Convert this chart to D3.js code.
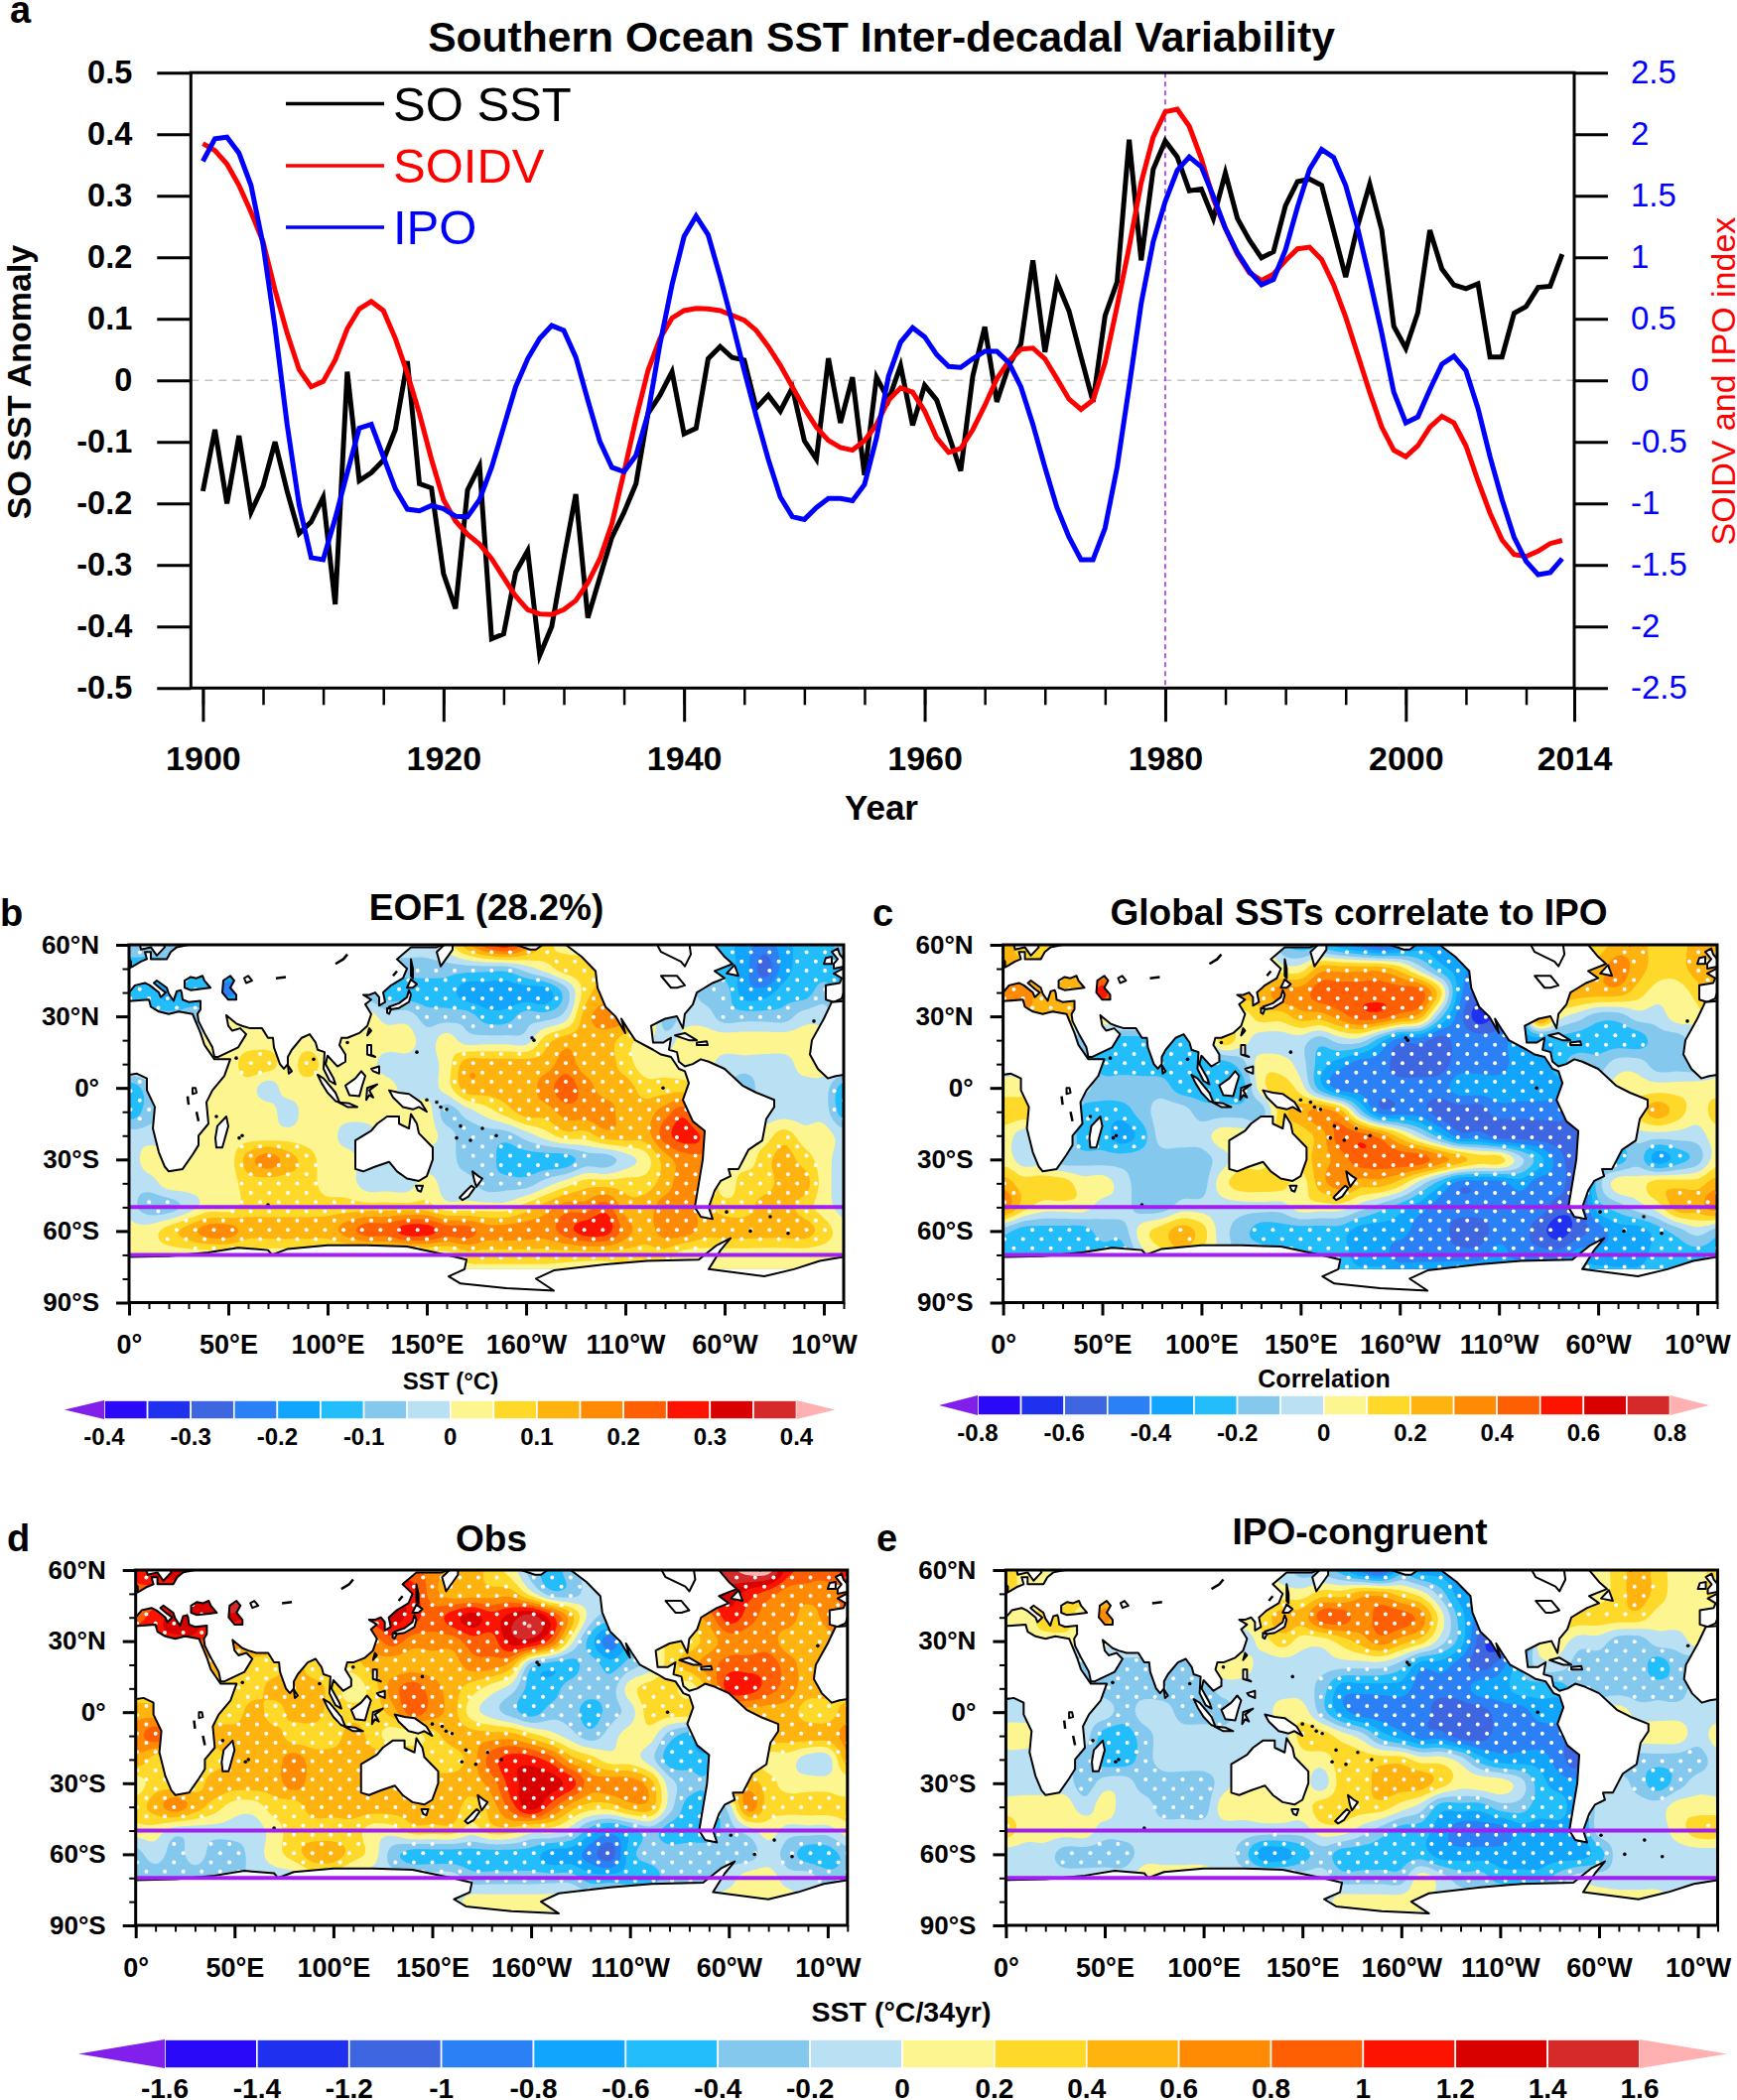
<!DOCTYPE html>
<html>
<head>
<meta charset="utf-8">
<script src="https://cdn.jsdelivr.net/npm/d3@7"></script>
<style>
html, body { margin: 0; padding: 0; background: #fff; overflow: hidden; }
text { font-family: "Liberation Sans", Arial, sans-serif; }
</style>
</head>
<body>
<div id="chart"></div>
<script>
// ---- panel a: annual series 1900-2013 ----
const years = d3.range(1900, 2014);
const soSst = [-0.18,-0.08,-0.20,-0.09,-0.214,-0.172,-0.10,-0.18,-0.249,-0.23,-0.19,-0.364,0.014,-0.163,-0.15,-0.13,-0.08,0.031,-0.168,-0.175,
  -0.314,-0.371,-0.178,-0.139,-0.42,-0.412,-0.312,-0.277,-0.447,-0.40,-0.29,-0.185,-0.386,-0.32,-0.255,-0.215,-0.168,-0.054,-0.024,0.014,
  -0.087,-0.078,0.035,0.055,0.037,0.033,-0.045,-0.024,-0.05,-0.012,-0.098,-0.128,0.036,-0.069,0.005,-0.154,0.005,-0.032,0.024,-0.073,
  -0.008,-0.032,-0.089,-0.147,0.007,0.087,-0.035,0.024,0.059,0.195,0.046,0.16,0.113,0.038,-0.035,0.105,0.16,0.391,0.195,0.343,
  0.389,0.363,0.308,0.311,0.263,0.337,0.263,0.228,0.199,0.209,0.284,0.323,0.327,0.317,0.243,0.168,0.251,0.319,0.244,0.088,
  0.052,0.11,0.244,0.181,0.155,0.149,0.157,0.038,0.038,0.109,0.12,0.151,0.153,0.205];
const soidv = [1.924,1.867,1.758,1.584,1.366,1.126,0.733,0.384,0.087,-0.052,-0.009,0.166,0.419,0.580,0.641,0.567,0.340,0.057,-0.271,-0.641,
  -0.969,-1.143,-1.252,-1.331,-1.449,-1.601,-1.754,-1.863,-1.898,-1.902,-1.863,-1.789,-1.645,-1.449,-1.165,-0.750,-0.314,0.079,0.340,0.506,
  0.567,0.585,0.580,0.567,0.528,0.489,0.406,0.275,0.122,-0.052,-0.227,-0.380,-0.489,-0.545,-0.567,-0.489,-0.358,-0.161,-0.061,-0.096,
  -0.249,-0.467,-0.585,-0.554,-0.401,-0.205,0.013,0.157,0.253,0.262,0.175,0.013,-0.153,-0.236,-0.161,0.144,0.602,1.082,1.606,1.976,
  2.182,2.203,2.064,1.802,1.475,1.235,1.025,0.873,0.812,0.864,0.973,1.069,1.082,0.982,0.777,0.515,0.209,-0.096,-0.380,-0.567,
  -0.620,-0.532,-0.380,-0.292,-0.345,-0.532,-0.816,-1.078,-1.296,-1.414,-1.431,-1.387,-1.326,-1.300];
const ipo = [1.780,1.963,1.976,1.846,1.584,1.104,0.428,-0.358,-1.012,-1.440,-1.457,-1.121,-0.750,-0.388,-0.358,-0.620,-0.881,-1.047,-1.060,-1.017,
  -1.043,-1.104,-1.108,-0.969,-0.707,-0.380,-0.052,0.175,0.340,0.445,0.406,0.188,-0.161,-0.497,-0.707,-0.742,-0.611,-0.271,0.297,0.777,
  1.169,1.335,1.182,0.842,0.471,0.079,-0.292,-0.641,-0.947,-1.108,-1.130,-1.034,-0.960,-0.960,-0.977,-0.846,-0.467,0.035,0.310,0.428,
  0.353,0.209,0.113,0.105,0.175,0.236,0.236,0.144,-0.052,-0.358,-0.707,-1.034,-1.274,-1.457,-1.457,-1.200,-0.707,-0.052,0.624,1.126,
  1.453,1.706,1.815,1.736,1.497,1.235,1.038,0.886,0.777,0.820,1.060,1.409,1.715,1.876,1.811,1.584,1.235,0.820,0.384,-0.096,
  -0.345,-0.297,-0.074,0.131,0.196,0.079,-0.227,-0.620,-0.969,-1.274,-1.470,-1.579,-1.562,-1.449];
const leftTicks = [0.5,0.4,0.3,0.2,0.1,0,-0.1,-0.2,-0.3,-0.4,-0.5];
const rightTicks = [2.5,2,1.5,1,0.5,0,-0.5,-1,-1.5,-2,-2.5];
const yearLabels = [1900,1920,1940,1960,1980,2000,2014];
const yearMinor = d3.range(1900, 2015, 5);

// ---- maps: colour class read off each 10 x 10 degree node ----
// 1..8 warm classes, -1..-8 cool classes (counted from zero), 9 is above the bar
const gridLats = d3.range(60, -81, -10);
const gridLons = d3.range(0, 360, 10);
const eof1Rows = [
 [-2,-2,-2,-2,-2,-2,-2,-2,-1,-1,-1,-1,-1,-1,-1,-1,1,3,5,6,4,2,1,1,1,1,-1,-1,-2,-2,-3,-4,-5,-4,-3,-3],
 [-3,-3,-3,-3,-3,-3,-3,-3,-2,-2,-2,-2,-2,-2,-2,-2,-2,-2,-2,-2,-1,1,2,2,2,2,-1,-1,-2,-3,-3,-4,-6,-4,-3,-3],
 [-3,-3,-4,-3,-3,-5,-3,-2,-2,-2,-2,-2,-2,-3,-3,-3,-3,-4,-4,-4,-4,-4,-2,2,3,3,1,-1,-1,-2,-2,-4,-4,-3,-3,-2],
 [-2,-2,-2,-2,-2,1,1,1,1,1,1,1,1,-1,-1,-2,-2,-2,-3,-3,-2,-2,-1,3,4,4,3,-2,-1,-1,-2,-2,-2,-2,-1,-1],
 [1,1,1,1,1,1,1,1,1,1,1,1,1,1,1,-1,1,-1,-1,-1,-1,2,3,3,3,2,1,-1,1,1,1,1,1,1,1,1],
 [1,1,1,1,1,1,2,2,1,2,1,1,1,-1,-1,-1,1,3,3,3,3,3,4,3,3,2,1,1,1,1,-1,-1,-1,-1,1,1],
 [-3,-2,-2,-2,1,1,1,-1,1,1,1,1,1,1,-1,-1,1,3,3,3,3,4,5,4,3,3,2,2,2,1,-1,-2,-1,-1,-1,-1],
 [-3,-2,-1,-1,1,1,1,1,-1,1,1,1,1,1,1,1,-2,-1,1,2,3,3,4,4,4,3,3,4,5,2,-1,-1,-1,-1,-1,-1],
 [-1,-1,-1,1,1,1,1,1,1,1,1,-1,-1,1,1,1,-1,-2,-2,-2,-1,1,2,2,3,3,3,5,6,5,1,1,1,2,1,1],
 [-1,1,1,1,1,1,3,4,3,2,1,1,-1,-1,-1,-1,-1,-2,-2,-3,-3,-3,-3,-2,-2,-1,1,3,4,4,2,1,2,3,2,1],
 [-1,-1,1,1,1,1,2,2,2,2,1,1,-1,-1,-1,1,-1,-1,-2,-2,-2,-1,1,2,2,2,2,3,4,3,1,2,2,3,3,1],
 [-1,-2,-2,-1,1,1,2,2,2,2,2,2,2,2,2,2,1,1,1,1,2,3,4,4,5,3,3,4,4,3,2,2,3,3,2,1],
 [1,1,2,3,4,4,3,3,3,3,3,4,5,5,6,6,5,5,4,4,4,4,5,6,6,4,3,4,4,3,3,3,3,3,3,2],
 [1,1,1,1,1,1,1,1,1,1,1,1,1,1,1,1,1,2,2,2,2,2,2,2,2,2,2,2,1,1,1,1,1,1,1,1],
 [1,1,1,1,1,1,1,1,1,1,1,1,1,1,1,1,1,1,1,1,1,1,1,1,1,1,1,1,1,1,1,1,1,1,1,1]];
const corrRows = [
 [3,2,2,2,3,3,3,3,3,3,3,3,3,3,-2,-3,-3,-4,-5,-6,-5,-4,-4,-4,-4,-4,-3,2,2,2,2,3,3,2,2,3],
 [3,3,3,3,3,3,3,3,3,3,3,3,3,2,1,1,3,3,3,3,2,-1,-3,-4,-5,-5,-4,1,1,2,3,4,3,2,2,3],
 [4,4,3,3,3,6,3,3,3,3,3,3,3,3,4,4,5,5,5,5,5,5,2,-4,-6,-6,-5,2,3,3,3,3,2,1,1,2],
 [3,3,3,3,2,2,2,2,2,2,2,2,1,2,2,3,3,4,5,5,4,3,-2,-5,-7,-6,-5,4,1,-1,-2,-2,-1,-1,1,1],
 [-1,-1,-1,-2,-2,-3,-3,-3,-3,-3,-3,2,1,-1,-1,-1,-2,-1,-1,-3,-5,-5,-6,-5,-5,-5,-4,-4,-3,-3,-3,-3,-3,-2,-2,-1],
 [-1,-1,-1,-1,-2,-3,-3,-3,-3,-3,-3,-3,-2,1,1,-1,-3,-4,-5,-5,-6,-6,-6,-5,-5,-5,-4,-4,-3,-2,-2,-1,-1,-2,-2,-2],
 [1,1,1,1,-1,-2,-2,-2,-2,-3,-3,-3,-3,1,2,1,-3,-5,-5,-5,-5,-5,-5,-4,-4,-4,-4,-4,-4,-3,-1,1,1,1,1,1],
 [2,2,2,1,-3,-3,-3,-2,-1,-1,-2,-2,-2,-2,2,3,4,3,-2,-5,-5,-5,-6,-6,-6,-5,-5,-5,-5,-5,2,2,2,3,2,1],
 [1,-1,-1,-1,-3,-3,-4,-3,-1,-1,-1,1,1,1,2,2,3,5,5,4,2,-1,-3,-5,-5,-6,-6,-6,-6,-6,-2,-2,-1,-1,-1,-1],
 [1,-1,-1,-2,-2,-2,-2,-2,-2,-2,-2,-1,1,1,2,2,3,4,5,5,5,5,4,3,2,2,-1,-3,-5,-6,-3,-3,-2,-4,-3,-2],
 [3,2,2,2,1,1,-1,-2,-2,-2,-2,1,2,2,2,1,3,4,3,3,2,-1,-3,-5,-5,-5,-4,-5,-5,-6,-2,1,1,2,2,2],
 [4,2,1,1,1,-1,-1,-2,-2,-1,-1,-1,-1,-1,-1,1,1,1,-1,-2,-3,-4,-5,-5,-5,-5,-5,-5,-6,-6,-3,-2,-1,1,3,3],
 [-2,-3,-3,-3,-3,-2,-2,1,2,3,2,-1,-2,-3,-3,-3,-3,-3,-4,-4,-4,-5,-5,-6,-6,-5,-5,-6,-7,-6,-5,-4,-4,-3,-2,-1],
 [-3,-3,-3,-3,-3,-3,-3,-1,1,2,1,-1,-2,-2,-3,-3,-3,-3,-4,-4,-5,-5,-5,-5,-5,-4,-5,-5,-5,-4,-4,-4,-4,-3,-3,-3],
 [-3,-3,-3,-3,-3,-3,-3,-3,-3,-3,-3,-3,-3,-3,-3,-3,-3,-3,-3,-3,-3,-3,-3,-3,-3,-3,-3,-3,-3,-3,-3,-3,-3,-3,-3,-3]];
const obsRows = [
 [6,7,7,7,7,7,7,7,7,7,6,6,5,5,5,4,3,3,2,1,-2,-3,-2,-1,-1,-1,-1,5,6,7,8,9,9,6,5,5],
 [5,5,6,7,7,9,6,6,6,6,6,6,6,6,6,4,3,3,3,3,1,-2,-2,-1,-1,-1,4,5,5,6,7,6,5,4,4,4],
 [5,6,7,7,7,7,6,6,6,6,6,6,6,7,6,5,6,7,6,7,8,6,3,-1,-2,-2,2,3,3,4,6,5,4,4,3,4],
 [6,6,6,6,4,4,4,4,4,4,4,4,4,5,4,4,4,5,5,7,7,5,1,-3,-5,-3,-1,2,2,3,4,4,4,3,3,3],
 [3,3,3,3,3,3,2,2,3,2,2,2,3,3,3,3,3,4,4,3,-2,-3,-3,-2,-3,-2,-1,2,3,4,5,5,5,4,3,3],
 [2,2,2,2,2,2,2,3,3,3,2,1,2,4,5,4,3,2,1,-1,-3,-3,-2,-2,-2,1,2,2,1,3,6,6,5,4,3,3],
 [3,3,3,3,2,2,3,2,3,3,2,2,2,3,5,4,3,1,-1,-2,-3,-2,-2,-3,-2,-1,2,2,2,2,3,3,3,3,2,2],
 [4,5,4,3,3,3,3,3,2,2,2,3,2,1,1,2,3,3,3,3,2,1,-1,-2,-1,1,1,-2,-3,-3,3,3,3,3,3,3],
 [3,2,2,2,2,3,3,3,4,3,3,3,3,3,3,2,2,3,5,6,6,5,3,2,1,1,-1,-3,-3,-3,2,2,1,1,-1,-1],
 [1,2,2,2,3,3,3,3,4,3,3,3,3,3,3,3,3,3,4,6,7,7,6,4,4,4,3,-1,-2,-2,3,3,2,1,1,1],
 [2,3,4,3,2,1,1,2,2,3,3,3,3,3,3,3,3,2,3,5,7,5,3,2,2,3,3,-1,-3,-3,-1,4,2,2,2,2],
 [1,1,-1,-1,-1,-1,-1,1,2,2,2,2,1,1,2,2,2,1,2,2,1,1,-1,-3,-4,-3,-2,-3,-3,-3,-2,-1,1,-1,-1,-1],
 [-2,-1,-2,-1,-2,-2,-1,1,2,3,3,2,1,-2,-3,-3,-3,-3,-3,-3,-3,-4,-4,-5,-6,-3,-2,-2,-2,-2,-2,-2,-1,-2,-3,-3],
 [-2,-2,-2,-2,-2,-2,-1,-1,-1,1,1,-1,-1,-1,-1,-1,-1,-2,-2,-2,-2,-2,-2,-3,-3,-3,-3,-2,-2,-2,-1,1,1,-1,-1,-2],
 [-1,-1,-1,-1,-1,-1,-1,-1,-1,-1,-1,-1,-1,-1,-1,-1,-1,1,1,1,1,1,1,-1,-1,-1,-1,-1,-1,1,1,1,1,1,-1,-1]];
const congruentRows = [
 [2,1,1,1,1,1,1,1,1,1,1,1,1,1,-1,-2,-2,-3,-5,-6,-3,-4,-4,-4,-3,-3,-1,1,1,1,1,2,3,2,1,1],
 [2,1,1,2,2,2,2,1,1,1,1,1,1,1,1,1,2,2,3,3,2,1,-2,-4,-4,-4,-3,1,1,1,1,2,3,2,1,1],
 [1,1,2,2,1,4,1,1,1,1,1,1,1,2,3,3,5,5,4,5,5,4,1,-3,-5,-5,-4,1,2,2,2,2,2,1,1,1],
 [1,1,1,1,1,1,1,1,1,1,1,1,-1,1,2,1,1,2,3,4,3,2,-1,-3,-6,-7,-5,1,1,-1,-1,-2,-2,-1,-1,1],
 [-1,-1,-1,-2,-2,-2,-2,-2,-1,-2,-1,1,1,-1,-1,-1,-1,-1,-1,-1,-2,-4,-4,-5,-6,-5,-3,-1,-1,-2,-2,-2,-2,-3,-2,-2],
 [-1,-1,-1,-1,-1,-2,-2,-2,-2,-2,-2,-1,-1,-1,-1,-1,-2,-4,-4,-4,-4,-5,-5,-5,-4,-4,-3,-3,-3,-2,-2,-2,-2,-2,-2,-1],
 [-1,-1,-1,-1,-1,-1,-2,-1,-1,-2,-2,-2,-1,-1,1,1,-2,-4,-5,-5,-5,-5,-6,-6,-6,-5,-5,-4,-4,-4,-1,1,-1,-1,-1,-1],
 [1,1,1,1,-1,-3,-3,-2,-1,-1,-1,-1,-1,-1,-1,2,2,1,-1,-3,-4,-5,-5,-6,-6,-5,-5,-5,-5,-6,-1,1,1,1,1,-1],
 [-1,-1,-1,-1,-2,-3,-3,-2,-1,-1,-1,-1,-1,-1,-1,1,1,2,2,2,2,1,1,-1,-3,-4,-4,-4,-5,-6,-1,-2,-2,-2,-2,-2],
 [-1,-1,-1,-1,-2,-1,-1,-2,-2,-2,-2,-1,1,1,1,1,-1,2,2,3,3,3,2,1,1,1,-1,-3,-4,-4,-1,-1,-2,-3,-2,-1],
 [1,1,1,1,-1,1,-1,-1,-2,-2,-2,1,1,1,1,1,2,2,2,2,1,-1,-3,-3,-3,-2,-2,-3,-3,-4,-1,-1,-1,-1,1,1],
 [2,1,1,1,1,-1,-1,-1,-1,-1,-1,-1,-1,-1,-1,-1,1,1,-1,-2,-3,-3,-4,-5,-5,-5,-4,-4,-4,-4,-1,-1,-1,-1,1,2],
 [-1,-1,-1,-2,-2,-2,-2,-1,-1,-1,-1,-1,-2,-4,-4,-3,-2,-3,-3,-3,-3,-3,-4,-4,-4,-4,-4,-4,-4,-4,-3,-1,-1,-1,-1,-1],
 [-1,-1,-1,-1,-1,-1,-1,1,1,1,1,-1,-1,-1,-1,-1,-1,-2,-2,-2,-2,1,-1,-2,-2,-3,-3,-3,-2,-1,-1,-1,-1,-1,-1,-1],
 [-1,-1,-1,-1,-1,-1,-1,-1,-1,-1,-1,-1,-1,-1,-1,-1,-1,1,1,1,1,1,-1,-1,-1,-1,-1,-1,-1,1,1,1,1,1,-1,-1]];

const bandColors = ["#2a08f8","#1f30ee","#3d66e0","#2b80f5","#12a5fd","#24bdfb","#84c8ee","#b9e0f3",
                    "#fdf690","#fed92a","#feb30e","#fe8b03","#fe5f03","#fd1400","#d90000","#d42a2a"];
const underColor = "#8020ea";
const overColor = "#ffb0b0";

const mapLonTicks = [0,50,100,150,200,250,300,350];
const mapLonLabels = ["0°","50°E","100°E","150°E","160°W","110°W","60°W","10°W"];
const mapLatTicks = [60,30,0,-30,-60,-90];
const mapLatLabels = ["60°N","30°N","0°","30°S","60°S","90°S"];
const barTicksB = ["-0.4","-0.3","-0.2","-0.1","0","0.1","0.2","0.3","0.4"];
const barTicksC = ["-0.8","-0.6","-0.4","-0.2","0","0.2","0.4","0.6","0.8"];
const barTicksDE = ["-1.6","-1.4","-1.2","-1","-0.8","-0.6","-0.4","-0.2","0","0.2","0.4","0.6","0.8","1","1.2","1.4","1.6"];

// ---- rough coastlines in lon/lat ----
const landRings = [
 // Eurasia, with the Black Sea and the Caspian as holes
 [[[-9,37],[-9,43],[-2,44],[-1,46],[-5,48],[2,51],[6,53],[9,54],[8,57],[11,57],[11,54],[14,54],[19,54],[21,57],[24,59],[30,60],[23,60],[21,62],[25,66],[21,65],[17,61],[18,59],[14,55.5],[11,59],[6,58],[5,62],[14,68],[25,71],[40,67],[70,73],[100,77],[140,73],[180,69],[190,66],[178,62],[170,60],[163,60],[163,58],[157,51],[155,57],[160,61],[155,59],[142,59],[135,54],[140,50],[138,46],[132,43],[128,40],[129,36],[126,34.5],[126,38],[124,40],[121,39],[118,39],[122,37],[119,35],[122,31],[120,26],[116,23],[110,21],[107,21],[106,18],[109,14],[109,11],[105,9],[100,13.5],[99,10],[103,4],[104,1.5],[101,3],[98,8],[98.5,15],[95,16],[94,19],[91,22.5],[87,21],[82,16],[80,13],[80,10],[78,8],[76,10],[73,17],[72.5,21],[70,21],[67,25],[61,25],[57,26],[54,27],[49,30.5],[50,26],[52,24],[56,25],[59,22.5],[55,17],[45,13],[43,13],[42,17],[38,23],[35,28],[34.5,31],[36,33],[36,36.5],[30,36],[27,37],[26.5,40],[26,41],[24,40.5],[23,38],[22.5,36.5],[20,39.5],[19,42],[14,45],[12.5,44],[16,41.5],[18.5,40],[16,38],[15,40],[10.5,43],[8,44],[3,43],[0,40],[-1,37.5],[-5,36],[-9,37]],
  [[28,42],[28,45],[31,46.5],[34,46],[37,47],[38,45],[41,42],[36,41.5],[31,41],[28,42]],
  [[50,37],[47,40],[47.5,45],[51,47],[53,45],[51,42],[54,39],[54,37],[50,37]]],
 // Africa
 [[[-6,36],[10,37],[11,34],[15,32],[20,31],[25,32],[32,31],[33,29],[36,23],[38,18],[43,12],[51,12],[48,5],[42,-1],[39,-6],[40,-15],[35,-20],[35,-24],[32,-28],[27,-34],[20,-35],[18,-33],[15,-27],[12,-17],[13,-8],[9,-1],[9,4],[4,6],[-4,5],[-8,4],[-13,8],[-17,14],[-16,20],[-10,29],[-6,36]]],
 // the Americas
 [[[-168,66],[-165,60],[-158,58],[-155,58],[-150,61],[-140,60],[-132,55],[-125,49],[-124,42],[-120,34],[-115,30],[-110,23],[-112,29],[-109,25],[-105,20],[-96,16],[-92,14],[-87,13],[-83,8],[-80,7],[-78,2],[-81,-5],[-76,-14],[-70,-18],[-71,-30],[-73,-40],[-75,-50],[-72,-54],[-66,-55],[-68,-50],[-65,-43],[-62,-39],[-57,-37],[-58,-34],[-53,-34],[-48,-26],[-41,-22],[-39,-13],[-35,-8],[-35,-5],[-44,-2],[-51,1],[-60,8],[-68,11],[-72,12],[-76,10],[-80,9],[-83,11],[-84,15],[-88,16],[-87,21],[-91,19],[-96,19],[-97,26],[-90,29],[-84,30],[-81,25],[-80,31],[-76,35],[-74,40],[-70,42],[-66,44],[-60,46],[-65,49],[-56,52],[-60,55],[-65,60],[-75,62],[-85,70],[-100,75],[-140,75],[-168,66]]],
 [[[114,-22],[114,-34],[118,-35],[124,-33],[131,-31],[135,-35],[140,-38],[146,-39],[150,-37],[153,-30],[153,-25],[146,-19],[145,-15],[142,-11],[141,-17],[136,-15],[136,-12],[130,-12],[125,-15],[122,-18],[114,-22]]],
 [[[49,-12],[50,-16],[47,-25],[44,-25],[43.5,-21],[44.5,-16],[49,-12]]],
 [[[80,9.5],[82,7],[80.5,6],[80,9.5]]],
 [[[95,5.5],[98,4],[104,-2],[106,-6],[104,-5.5],[100,-2],[97,2],[95,5.5]]],
 [[[105.5,-6],[111,-6.5],[115,-8],[110,-8],[105.5,-6]]],
 [[[109,1],[114,4],[117,7],[119,5],[117.5,1],[116,-3.5],[111,-3],[109,1]]],
 [[[119.5,-5],[120,0],[125,1.5],[121,-1],[123,-4],[121,-3],[119.5,-5]]],
 [[[131,-1],[136,-2],[141,-2.5],[147,-6],[150,-10],[146,-8],[143,-9],[138,-8],[133,-4],[131,-1]]],
 [[[120,18],[122,18],[122,14],[124,13],[120,14],[120,18]]],
 [[[122,8],[126,9],[126,6],[123,7],[122,8]]],
 [[[120,22],[121,25],[122,24],[120,22]]],
 [[[131,34],[136,35.5],[140,38],[141,41],[142,39],[141,36],[136,33.5],[132,33],[131,34]]],
 [[[140,42],[142,45.5],[145,43.5],[143,42],[140,42]]],
 [[[130,33.5],[132,33],[131,31],[130,31.5],[130,33.5]]],
 [[[142,54],[143,50],[143,46],[142,47],[142,54]]],
 [[[144.5,-41],[148,-41],[147,-43.5],[145.5,-43],[144.5,-41]]],
 [[[173,-35],[176,-37],[178,-38],[175,-41.5],[174,-39],[173,-35]]],
 [[[172.5,-41],[174,-42],[171,-45.5],[168,-47],[166.5,-46],[170,-43],[172.5,-41]]],
 [[[-85,22],[-80,23],[-74,20],[-78,20],[-85,22]]],
 [[[-74,19],[-69,19.5],[-68.5,18],[-74,18],[-74,19]]],
 [[[-5,50],[1,51],[1,53],[-2,56],[-3,58.5],[-6,57],[-3,54],[-5,52],[-5,50]]],
 [[[-10,52],[-6,52],[-6,55],[-9,54.5],[-10,52]]],
 [[[-59,48],[-53,47],[-55,51.5],[-59,48]]],
 [[[-44,59.8],[-50,62],[-40,66],[-40,62],[-44,59.8]]],
 // lakes and Hudson Bay stay white, only outlined
 [[[60,47],[62,45],[59,44],[58,46],[60,47]]],
 [[[33.5,0],[34,-2],[32,-2.5],[32,0],[33.5,0]]],
 [[[-80,51],[-82,53],[-92,57],[-94,60],[-90,64],[-78,62],[-77,56],[-80,51]]],
 [[[-92,47],[-84,47],[-80,43],[-84,42],[-87,42],[-92,47]]]
];
// Antarctica runs past both map edges and closes along the bottom, drawn once
const antarctica = [[-6,-71],[20,-70.5],[40,-69],[55,-67],[70,-68],[72,-70],[80,-67.5],[100,-66],[120,-66],[140,-66.5],[160,-70],[170,-72],[169,-76],[161,-79],[167,-82],[190,-84],[214,-85],[205,-80],[214,-76.5],[240,-74],[261,-72.5],[287,-72],[296,-66],[303,-63],[298,-68],[292,-76],[320,-79],[335,-76],[348,-72.5],[359,-71],[366,-71],[366,-95],[-6,-95],[-6,-71]];
const lakeLines = [
 [[104,52],[108,54],[110,56]],
 [[74,46],[79,46.5]],
 [[29.5,-3.5],[30,-7]],
 [[34,-10],[35,-14]],
 [[135,49],[133,47]]
];
const islets = [[204,20],[203,21],[178,-17],[165,-21],[167,-16],[160,-9],[157,-8],[269,0],[70,-49],[323,-54],[301,-52],[345,28],[44,-12],[54,12.5],[57,-20],[55.5,-21],[93,12],[110,19],[145,15],[150,-5],[155,-6],[172,-22],[185,-20],[332,-61],[313,-60]];
const stormLats = [-50,-70];

// ---- page ----
const svg = d3.select("#chart").append("svg").attr("width", 1750).attr("height", 2116);
const BOLD = 700;

function label(x, y, s, size, opts) {
  opts = opts || {};
  return svg.append("text").attr("x", x).attr("y", y).text(s)
    .attr("font-size", size)
    .attr("font-weight", opts.weight || BOLD)
    .attr("fill", opts.color || "#000")
    .attr("text-anchor", opts.anchor || "middle")
    .attr("transform", opts.rotate ? `rotate(${opts.rotate},${x},${y})` : null);
}

// ---- panel a ----
const ax = d3.scaleLinear().domain([1899, 2014]).range([192.3, 1586]);
const ayL = d3.scaleLinear().domain([-0.5, 0.5]).range([693.3, 73.2]);
const ayR = d3.scaleLinear().domain([-2.5, 2.5]).range([693.3, 73.2]);

function styleAxis(g, width, size, color, weight) {
  g.select(".domain").remove();
  g.selectAll("line").attr("stroke", "#000").attr("stroke-width", width);
  g.selectAll("text").filter(function () { return !this.textContent; }).remove();
  g.selectAll("text").attr("font-size", size).attr("fill", color || "#000")
    .attr("font-weight", weight || BOLD)
    .attr("font-family", '"Liberation Sans", Arial, sans-serif');
}

svg.append("line").attr("x1", ax(1899)).attr("x2", ax(2014)).attr("y1", ayL(0)).attr("y2", ayL(0))
  .attr("stroke", "#c4c4c4").attr("stroke-width", 1.5).attr("stroke-dasharray", "8 6");
svg.append("line").attr("x1", ax(1980)).attr("x2", ax(1980)).attr("y1", ayL(0.5)).attr("y2", ayL(-0.5))
  .attr("stroke", "#a020f0").attr("stroke-width", 1.5).attr("stroke-dasharray", "5 4");

const lineL = d3.line().x((d, i) => ax(years[i])).y(d => ayL(d));
const lineR = d3.line().x((d, i) => ax(years[i])).y(d => ayR(d));
svg.append("path").attr("d", lineL(soSst)).attr("fill", "none").attr("stroke", "#000").attr("stroke-width", 5);
svg.append("path").attr("d", lineR(soidv)).attr("fill", "none").attr("stroke", "#f00").attr("stroke-width", 5);
svg.append("path").attr("d", lineR(ipo)).attr("fill", "none").attr("stroke", "#00f").attr("stroke-width", 5);

svg.append("rect").attr("x", ax(1899)).attr("y", ayL(0.5)).attr("width", ax(2014) - ax(1899)).attr("height", ayL(-0.5) - ayL(0.5))
  .attr("fill", "none").attr("stroke", "#000").attr("stroke-width", 3);

svg.append("g").attr("transform", `translate(${ax(1899)},0)`)
  .call(d3.axisLeft(ayL).tickValues(leftTicks).tickSize(34).tickPadding(25).tickFormat(d => String(d)))
  .call(styleAxis, 3, 32.5);
svg.append("g").attr("transform", `translate(${ax(2014)},0)`)
  .call(d3.axisRight(ayR).tickValues(rightTicks).tickSize(34).tickPadding(23).tickFormat(d => String(d)))
  .call(styleAxis, 3, 33, "#00f", 400);
svg.append("g").attr("transform", `translate(0,${ayL(-0.5)})`)
  .call(d3.axisBottom(ax).tickValues(yearMinor).tickSize(17).tickFormat(""))
  .call(styleAxis, 2.5, 31);
svg.append("g").attr("transform", `translate(0,${ayL(-0.5)})`)
  .call(d3.axisBottom(ax).tickValues(yearLabels).tickSize(34).tickPadding(25).tickFormat(d => String(d)))
  .call(styleAxis, 3, 34);

const legendNames = ["SO SST", "SOIDV", "IPO"];
const legendColors = ["#000", "#f00", "#00f"];
const legendY = [104.6, 167, 229];
legendNames.forEach((n, i) => {
  svg.append("line").attr("x1", 288).attr("x2", 387).attr("y1", legendY[i]).attr("y2", legendY[i])
    .attr("stroke", legendColors[i]).attr("stroke-width", 3.5);
  label(396, legendY[i] + 17, n, 49, { anchor: "start", weight: 400, color: legendColors[i] });
});

label(888, 52, "Southern Ocean SST Inter-decadal Variability", 42.6);
label(888, 826, "Year", 35);
label(31, 385, "SO SST Anomaly", 34, { rotate: -90 });
label(1748, 384, "SOIDV and IPO index", 34, { rotate: -90, weight: 400, color: "#f00" });
label(10, 23, "a", 38, { anchor: "start" });

// ---- maps ----
const decodeBand = n => n === 0 ? 0 : n - Math.sign(n) * 0.5;

// bicubic read of a node grid at any lon/lat, wrapping in longitude
function sampler(rows) {
  const grid = rows.map(r => r.map(decodeBand));
  const cub = (p0, p1, p2, p3, t) =>
    p1 + 0.5 * t * (p2 - p0 + t * (2 * p0 - 5 * p1 + 4 * p2 - p3 + t * (3 * (p1 - p2) + p3 - p0)));
  const nr = gridLats.length, nc = gridLons.length;
  return function (lon, lat) {
    const fx = (((lon % 360) + 360) % 360) / 10;
    const fy = Math.max(0, Math.min(nr - 1, (60 - lat) / 10));
    const i = Math.floor(fx), j = Math.min(nr - 2, Math.floor(fy));
    const tx = fx - i, ty = fy - j;
    const col = [];
    for (let jj = j - 1; jj <= j + 2; jj++) {
      const r = grid[Math.max(0, Math.min(nr - 1, jj))];
      col.push(cub(r[(i - 1 + nc) % nc], r[i % nc], r[(i + 1) % nc], r[(i + 2) % nc], tx));
    }
    return cub(col[0], col[1], col[2], col[3], ty);
  };
}

const inLand = (lon, lat) => {
  if (d3.polygonContains(antarctica, [lon, lat])) return true;
  for (const shift of [0, -360, 360]) {
    for (const rings of landRings) {
      if (d3.polygonContains(rings[0], [lon + shift, lat])) {
        let inside = true;
        for (let k = 1; k < rings.length; k++) if (d3.polygonContains(rings[k], [lon + shift, lat])) inside = false;
        if (inside) return true;
      }
    }
  }
  return false;
};

let clipCount = 0;
function drawMap(m) {
  const x = d3.scaleLinear().domain([0, 360]).range([m.left, m.right]);
  const y = d3.scaleLinear().domain([-90, 60]).range([m.bottom, m.top]);
  const id = "clip" + (clipCount++);
  const defs = svg.append("defs");
  defs.append("clipPath").attr("id", id + "f").append("rect")
    .attr("x", m.left).attr("y", m.top).attr("width", m.right - m.left).attr("height", y(m.fieldSouth) - m.top);
  defs.append("clipPath").attr("id", id).append("rect")
    .attr("x", m.left).attr("y", m.top).attr("width", m.right - m.left).attr("height", m.bottom - m.top);

  // filled contours
  const read = sampler(m.rows);
  const w = 371, h = 156;
  const values = new Float64Array(w * h);
  for (let j = 0; j < h; j++) for (let i = 0; i < w; i++) values[j * w + i] = read(i - 5, 65 - j);
  const contours = d3.contours().size([w, h]).thresholds(d3.range(-8, 9))(values);
  const project = d3.geoPath(d3.geoTransform({
    point(px, py) { this.stream.point(x(px - 0.5 - 5), y(65 - (py - 0.5))); }
  }));
  const colorOf = t => t >= 8 ? overColor : bandColors[t + 8];
  const fg = svg.append("g").attr("clip-path", `url(#${id}f)`);
  fg.append("rect").attr("x", m.left).attr("y", m.top).attr("width", m.right - m.left).attr("height", m.bottom - m.top).attr("fill", bandColors[0]);
  fg.selectAll("path").data(contours).enter().append("path")
    .attr("d", project).attr("fill", d => colorOf(d.value));

  // stippling on a staggered lattice
  const dots = [];
  for (let j = 0; j < 38; j++) {
    const lat = 56.9 - 3.88 * j;
    for (let k = -30; k < 30; k++) {
      const lon = 192 + 9.33 * k + (j % 2 ? 4.665 : 0);
      if (lon < 0 || lon > 360 || lat < -76) continue;
      const v = read(lon, lat);
      if ((v >= m.sigPos || v <= m.sigNeg) && !inLand(lon, lat)) dots.push([lon, lat]);
    }
  }
  fg.selectAll("circle").data(dots).enter().append("circle")
    .attr("cx", d => x(d[0])).attr("cy", d => y(d[1])).attr("r", 2).attr("fill", "#fff");

  // land
  const lg = svg.append("g").attr("clip-path", `url(#${id})`);
  const ringPath = d3.line().x(d => x(d[0])).y(d => y(d[1]));
  lg.append("path").attr("d", ringPath(antarctica) + "Z")
    .attr("fill", "#fff").attr("stroke", "#000").attr("stroke-width", 2).attr("stroke-linejoin", "round");
  [0, 360].forEach(shift => {
    lg.selectAll(null).data(landRings).enter().append("path")
      .attr("d", rings => rings.map(r => ringPath(r.map(p => [p[0] + shift, p[1]])) + "Z").join(""))
      .attr("fill", "#fff").attr("fill-rule", "evenodd").attr("stroke", "#000").attr("stroke-width", 2)
      .attr("stroke-linejoin", "round");
    lg.selectAll(null).data(lakeLines).enter().append("path")
      .attr("d", l => ringPath(l.map(p => [p[0] + shift, p[1]])))
      .attr("fill", "none").attr("stroke", "#000").attr("stroke-width", 2.5);
  });
  lg.selectAll(null).data(islets).enter().append("circle")
    .attr("cx", d => x(d[0])).attr("cy", d => y(d[1])).attr("r", 1.8).attr("fill", "#000");

  // two purple latitude lines bound the Southern Ocean box
  stormLats.forEach(lat => {
    svg.append("line").attr("x1", m.left).attr("x2", m.right).attr("y1", y(lat)).attr("y2", y(lat))
      .attr("stroke", "#a020f0").attr("stroke-width", 4);
  });

  svg.append("rect").attr("x", m.left).attr("y", m.top).attr("width", m.right - m.left).attr("height", m.bottom - m.top)
    .attr("fill", "none").attr("stroke", "#000").attr("stroke-width", 3);

  svg.append("g").attr("transform", `translate(0,${m.bottom})`)
    .call(d3.axisBottom(x).tickValues(d3.range(0, 361, 10)).tickSize(6.5).tickFormat(""))
    .call(styleAxis, 2, 26);
  svg.append("g").attr("transform", `translate(0,${m.bottom})`)
    .call(d3.axisBottom(x).tickValues(mapLonTicks).tickSize(13).tickPadding(19.5).tickFormat((d, i) => mapLonLabels[i]))
    .call(styleAxis, 3, 27);
  svg.append("g").attr("transform", `translate(${m.left},0)`)
    .call(d3.axisLeft(y).tickValues(d3.range(-90, 61, 10)).tickSize(6.5).tickFormat(""))
    .call(styleAxis, 2, 26);
  svg.append("g").attr("transform", `translate(${m.left},0)`)
    .call(d3.axisLeft(y).tickValues(mapLatTicks).tickSize(13).tickPadding(17).tickFormat((d, i) => mapLatLabels[i]))
    .call(styleAxis, 3, 26);

  label(m.titleX, m.titleY, m.title, m.titleSize);
  label(m.tagX, m.tagY, m.tag, 38, { anchor: "start" });
}

function drawBar(b) {
  const bx = d3.scaleLinear().domain([-8, 8]).range([b.x0, b.x1]);
  svg.selectAll(null).data(bandColors).enter().append("rect")
    .attr("x", (d, i) => bx(i - 8)).attr("y", b.y0)
    .attr("width", bx(1) - bx(0)).attr("height", b.y1 - b.y0)
    .attr("fill", d => d).attr("stroke", "#fff").attr("stroke-width", 1.6);
  const mid = (b.y0 + b.y1) / 2;
  svg.append("path").attr("d", `M${b.x0},${b.y0}L${b.tip0},${mid}L${b.x0},${b.y1}Z`).attr("fill", underColor);
  svg.append("path").attr("d", `M${b.x1},${b.y0}L${b.tip1},${mid}L${b.x1},${b.y1}Z`).attr("fill", overColor);
  const step = 16 / (b.ticks.length - 1);
  b.ticks.forEach((t, i) => label(bx(-8 + i * step), b.labelY, t, b.size));
  label(b.titleX, b.titleY, b.title, b.titleSize);
}

const topY = [952, 1312.5], lowY = [1582, 1940];
drawMap({ rows: eof1Rows, left: 130, right: 850, top: topY[0], bottom: topY[1], fieldSouth: -76, sigPos: 1.0, sigNeg: -1.3,
  title: "EOF1 (28.2%)", titleX: 490, titleY: 927, titleSize: 37, tag: "b", tagX: 0, tagY: 933 });
drawMap({ rows: corrRows, left: 1010.6, right: 1730, top: topY[0], bottom: topY[1], fieldSouth: -76, sigPos: 2.2, sigNeg: -2.0,
  title: "Global SSTs correlate to IPO", titleX: 1369, titleY: 932, titleSize: 37, tag: "c", tagX: 879, tagY: 933 });
drawMap({ rows: obsRows, left: 136.7, right: 853.8, top: lowY[0], bottom: lowY[1], fieldSouth: -84, sigPos: 1.0, sigNeg: -1.0,
  title: "Obs", titleX: 495, titleY: 1563, titleSize: 37, tag: "d", tagX: 7, tagY: 1563 });
drawMap({ rows: congruentRows, left: 1013.4, right: 1730.5, top: lowY[0], bottom: lowY[1], fieldSouth: -84, sigPos: 1.4, sigNeg: -1.0,
  title: "IPO-congruent", titleX: 1370, titleY: 1556, titleSize: 37, tag: "e", tagX: 883, tagY: 1563 });

drawBar({ x0: 105, x1: 802.5, tip0: 65, tip1: 841.5, y0: 1411, y1: 1430, ticks: barTicksB, labelY: 1456, size: 24,
  title: "SST (°C)", titleX: 454, titleY: 1400, titleSize: 24 });
drawBar({ x0: 985, x1: 1682.5, tip0: 946, tip1: 1722, y0: 1406, y1: 1426, ticks: barTicksC, labelY: 1452, size: 24,
  title: "Correlation", titleX: 1334, titleY: 1398, titleSize: 25 });
drawBar({ x0: 166, x1: 1652, tip0: 79, tip1: 1740, y0: 2055, y1: 2084, ticks: barTicksDE, labelY: 2114, size: 28,
  title: "SST (°C/34yr)", titleX: 908, titleY: 2037, titleSize: 28.5 });
</script>
</body>
</html>
